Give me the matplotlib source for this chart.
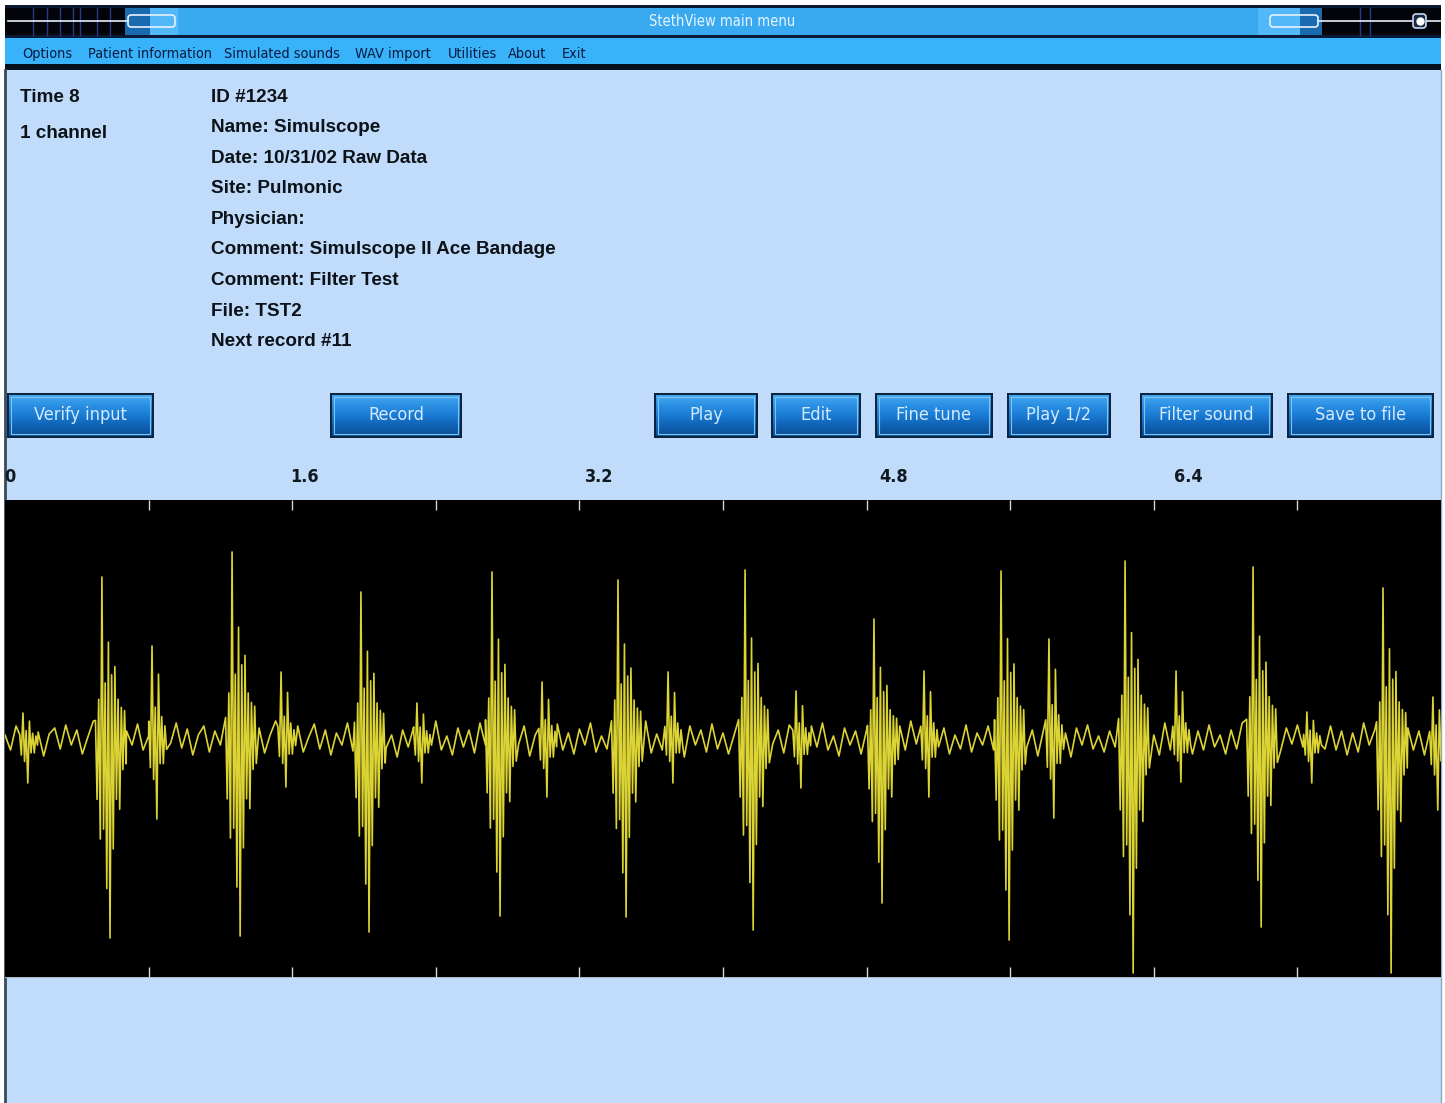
import numpy as np
import matplotlib
matplotlib.use('Agg')
import matplotlib.pyplot as plt
from matplotlib import font_manager
from matplotlib.patches import Rectangle, FancyBboxPatch
from matplotlib.colors import LinearSegmentedColormap

# ---- screen text ----
window_title = 'StethView main menu'
menu_items = ['Options', 'Patient information', 'Simulated sounds', 'WAV import',
              'Utilities', 'About', 'Exit']
status_lines = ['Time 8', '1 channel']
record_lines = ['ID #1234', 'Name: Simulscope', 'Date: 10/31/02 Raw Data', 'Site: Pulmonic',
                'Physician:', 'Comment: Simulscope II Ace Bandage', 'Comment: Filter Test',
                'File: TST2', 'Next record #11']
button_labels = ['Verify input', 'Record', 'Play', 'Edit', 'Fine tune', 'Play 1/2',
                 'Filter sound', 'Save to file']
time_label_values = [0, 1.6, 3.2, 4.8, 6.4]
time_labels = ['0', '1.6', '3.2', '4.8', '6.4']
tick_times = [0.8, 1.6, 2.4, 3.2, 4.0, 4.8, 5.6, 6.4, 7.2]

# ---- waveform (time in s, amplitude in screen units) ----
# first heart sound: time of main spike, height up, depth down
s1_times = [0.540, 1.265, 1.983, 2.713, 3.415, 4.123, 4.841, 5.549, 6.240, 6.953, 7.677]
s1_up = [163, 188, 148, 168, 160, 170, 121, 169, 179, 173, 152]
s1_down = [198, 196, 192, 176, 177, 190, 163, 200, 233, 187, 233]
# second heart sound
s2_times = [0.100, 0.819, 1.538, 2.295, 2.992, 3.694, 4.407, 5.120, 5.816, 6.524, 7.253, 7.955]
s2_up = [27, 94, 68, 37, 58, 68, 49, 69, 101, 69, 28, 43]
s2_down = [43, 79, 47, 43, 57, 43, 48, 57, 78, 42, 43, 70]
# relative shape of each sound, one value per sample
s1_shape = [0.12, -0.3, 0.25, -0.5, 1.0, -0.45, 0.35, -0.75, 0.6, -1.0, 0.4, -0.55,
            0.45, -0.3, 0.25, -0.35, 0.2, -0.15, 0.18, -0.12]
s1_peak = 4
s2_shape = [0.2, -0.35, 1.0, -0.5, 0.35, -1.0, 0.7, -0.3, 0.25, -0.3, 0.15, -0.12]
s2_peak = 2
sample_dt = 0.009
# background wiggle between sounds
baseline = [5, -10, 14, -4, 18, -12, 8, -16, 6, 12, -9, 15, -5, 10, -14, 3, 19, -11, 7, -6,
            13, -16, 9, -5, 16, -10, 4, 12, -14, 7, -3, 17, -8, 11, -15, 5, 14, -12, 9, -5,
            10, -18, 7, -9, 15, -4, 12, -13, 5, 19, -10, 8, -7, 14, -12, 3, 16, -9, 10, -15,
            7, -5, 17, -11, 9, -14, 12, -4, 15, -8, 5, -17, 10, -7, 13, -12, 8, -5, 19, -10,
            4, -15, 12, -7, 10, -13, 17, -5, 9, -12, 6, -10, 15, -4, 14, -16, 5, -9, 12, -7,
            16, -10, 7, -14, 11, -5, 17, -12, 4, -9, 14, -15, 8, -7, 12, -4, 19, -13, 6, -10,
            12, -7, 9, -17, 14, -5, 10, -12, 16, -9, 7, -14, 5, -10, 17, -7, 12, -15, 8, -4,
            10, -13, 15, -9, 5, -12, 14, -7, 17, -10, 4, -16, 12, -5, 9, -14, 10, -8, 15, -5,
            7, -12, 14, -10, 19, -4, 9, -15, 10, -7, 12, -14, 5, -9, 15, -12, 7, -5, 14, -10,
            17, -9, 5, -14, 12, -7, 10, -16, 9, -4, 14, -10, 7, -17, 12, -5, 15, -9, 4, -12,
            9, -7, 15, -12, 10, -5, 14, -9, 5, -15, 17, -10, 7, -4, 12, -14, 9, -10, 15, -7,
            5, -14, 10, -9, 17, -12, 7, -5, 14, -15, 9, -10, 12, -4, 15, -7, 10, -14, 5, -9,
            14, -10, 9, -15, 7, -12, 17, -5, 10, -9, 15, -14, 4, -7, 12, -10, 9, -15, 14, -5, 7]

# ---- fonts ----
entries = font_manager.fontManager.ttflist
names = {f.name for f in entries}
if 'Liberation Sans Narrow' in names:
    NARROW = dict(family='Liberation Sans Narrow')
elif any(f.name == 'DejaVu Sans' and f.stretch == 'condensed' for f in entries):
    NARROW = dict(family='DejaVu Sans', fontstretch='condensed')
else:
    NARROW = dict(family='Liberation Sans')
BOLD = dict(family='Liberation Sans', fontweight='bold')

W, H = 1445, 1103
fig = plt.figure(figsize=(W / 100, H / 100), dpi=100)
fig.patch.set_facecolor('white')
bg = fig.add_axes([0, 0, 1, 1])
bg.axis('off')

def box(x0, y0, x1, y1, color, z=1, **kw):
    bg.add_patch(Rectangle((x0, y0), x1 - x0, y1 - y0, facecolor=color,
                           edgecolor='none', zorder=z, **kw))

# window body and bars
box(5, 5, 1441, H, '#c0dcfa', 0)
box(5, 5, 1441, 8, '#0a1830')
box(5, 8, 1441, 35, '#3aaaf0')
box(5, 35, 1441, 38, '#0a1a38')
box(5, 38, 1441, 64, '#38b2f8')
box(5, 64, 1441, 70, '#06101c')

# title bar decorations
box(5, 8, 125, 35, '#02040a', 2)
box(125, 8, 150, 35, '#1a6ab0', 2)
box(150, 8, 178, 35, '#52b8f8', 2)
for vx in [33, 47, 60, 73, 80, 97, 110]:
    bg.plot([vx, vx], [8, 35], color='#2a3a8a', lw=1, zorder=3)
bg.plot([8, 128], [21, 21], color='#e8f0ff', lw=1.2, zorder=4)
bg.add_patch(FancyBboxPatch((128, 15), 47, 12, boxstyle='round,pad=0,rounding_size=3',
                            facecolor='none', edgecolor='#e8f0ff', lw=1.2, zorder=4))
box(1258, 8, 1300, 35, '#52b8f8', 2)
box(1300, 8, 1322, 35, '#1a6ab0', 2)
box(1322, 8, 1441, 35, '#02040a', 2)
for vx in [1360, 1370]:
    bg.plot([vx, vx], [8, 35], color='#2a3a8a', lw=1, zorder=3)
bg.plot([1318, 1440], [21, 21], color='#e8f0ff', lw=1.2, zorder=4)
bg.add_patch(FancyBboxPatch((1270, 15), 48, 12, boxstyle='round,pad=0,rounding_size=3',
                            facecolor='none', edgecolor='#e8f0ff', lw=1.2, zorder=4))
bg.add_patch(FancyBboxPatch((1413, 14), 13, 14, boxstyle='round,pad=0,rounding_size=3',
                            facecolor='#1a2a40', edgecolor='#c8d8f0', lw=1.2, zorder=5))
bg.plot([1419.5], [21], 'o', color='white', ms=5, zorder=6)
bg.text(722, 21, window_title, ha='center', va='center', color='#e6f4ff',
        fontsize=10.5, zorder=5, **NARROW)

# menu
menu_x = [22, 88, 224, 355, 448, 508, 562]
for label, mx in zip(menu_items, menu_x):
    bg.text(mx, 54, label, ha='left', va='center', color='#0a1a40', fontsize=10.4, **NARROW)

# panel edges
bg.plot([5, 5], [70, H], color='#3a4a5a', lw=2, zorder=3)
bg.plot([1441, 1441], [70, H], color='#90a8c0', lw=1, zorder=3)

# patient / record text
for i, line in enumerate(status_lines):
    bg.text(20, 98 + 35 * i, line, ha='left', va='center', color='#0c1218', fontsize=13.6, **BOLD)
for i, line in enumerate(record_lines):
    bg.text(211, 97 + 30.6 * i, line, ha='left', va='center', color='#0c1218', fontsize=13.6, **BOLD)

# buttons
btn_cmap = LinearSegmentedColormap.from_list(
    'btn', ['#46a8f0', '#2a90e4', '#1a7ad2', '#0f62b4', '#0a4e96'])
grad = np.linspace(0, 1, 64).reshape(-1, 1)
button_spans = [(7, 154), (330, 462), (654, 758), (771, 861), (875, 993),
                (1007, 1111), (1140, 1273), (1287, 1434)]
by0, by1 = 393, 438
for label, (x0, x1) in zip(button_labels, button_spans):
    box(x0, by0, x1, by1, '#0b2440', 2)
    bg.imshow(grad, cmap=btn_cmap, aspect='auto', origin='upper',
              extent=(x0 + 2, x1 - 2, by1 - 2, by0 + 2), zorder=3)
    bg.add_patch(Rectangle((x0 + 4, by0 + 4), x1 - x0 - 8, by1 - by0 - 8, facecolor='none',
                           edgecolor='#7cc4f4', lw=0.8, zorder=4))
    bg.text((x0 + x1) / 2, 415, label, ha='center', va='center', color='#d4eaff',
            fontsize=13, zorder=5, **NARROW)

bg.add_patch(Rectangle((5, 976), 1436, 2, facecolor='#a8b8c8', edgecolor='none', zorder=3))
bg.set_xlim(0, W)
bg.set_ylim(H, 0)

# time labels above the trace
lab = fig.add_axes([10 / W, 1 - 490 / H, 1178 / W, 25 / H])
lab.set_xlim(0, 6.4)
lab.set_ylim(0, 1)
lab.axis('off')
for v, t in zip(time_label_values, time_labels):
    lab.text(v, 0.5, t, ha='center', va='center', color='#101820', fontsize=13,
             fontweight='bold', family=NARROW['family'],
             fontstretch=NARROW.get('fontstretch', 'normal'))

# build the trace: baseline, with the heart sounds laid over it
bt = np.linspace(0, 8, len(baseline))
bv = np.array(baseline, dtype=float)
keep = np.ones(len(bt), dtype=bool)
pts_t, pts_v = [], []
for times, ups, downs, shape, peak in [(s1_times, s1_up, s1_down, s1_shape, s1_peak),
                                        (s2_times, s2_up, s2_down, s2_shape, s2_peak)]:
    for t0, up, dn in zip(times, ups, downs):
        st = t0 + (np.arange(len(shape)) - peak) * sample_dt
        sv = np.array([s * up if s > 0 else s * dn for s in shape])
        keep &= ~((bt > st[0]) & (bt < st[-1]))
        pts_t.extend(st)
        pts_v.extend(sv)
all_t = np.concatenate([bt[keep], pts_t])
all_v = np.concatenate([bv[keep], pts_v])
order = np.argsort(all_t)
all_t, all_v = all_t[order], all_v[order]

ax = fig.add_axes([5 / W, 1 - 977 / H, 1436 / W, 477 / H])
ax.set_facecolor('black')
ax.plot(all_t, all_v, color='#dcd434', lw=1.2)
ax.set_xlim(0, 8)
ax.set_ylim(-237, 240)
ax.set_xticks(tick_times)
ax.set_yticks([])
ax.tick_params(axis='x', direction='in', length=7, width=1, color='#d8d8d8',
               top=True, bottom=True, labelbottom=False, labeltop=False)
for s in ax.spines.values():
    s.set_visible(False)

fig.savefig('out.png', dpi=100)
